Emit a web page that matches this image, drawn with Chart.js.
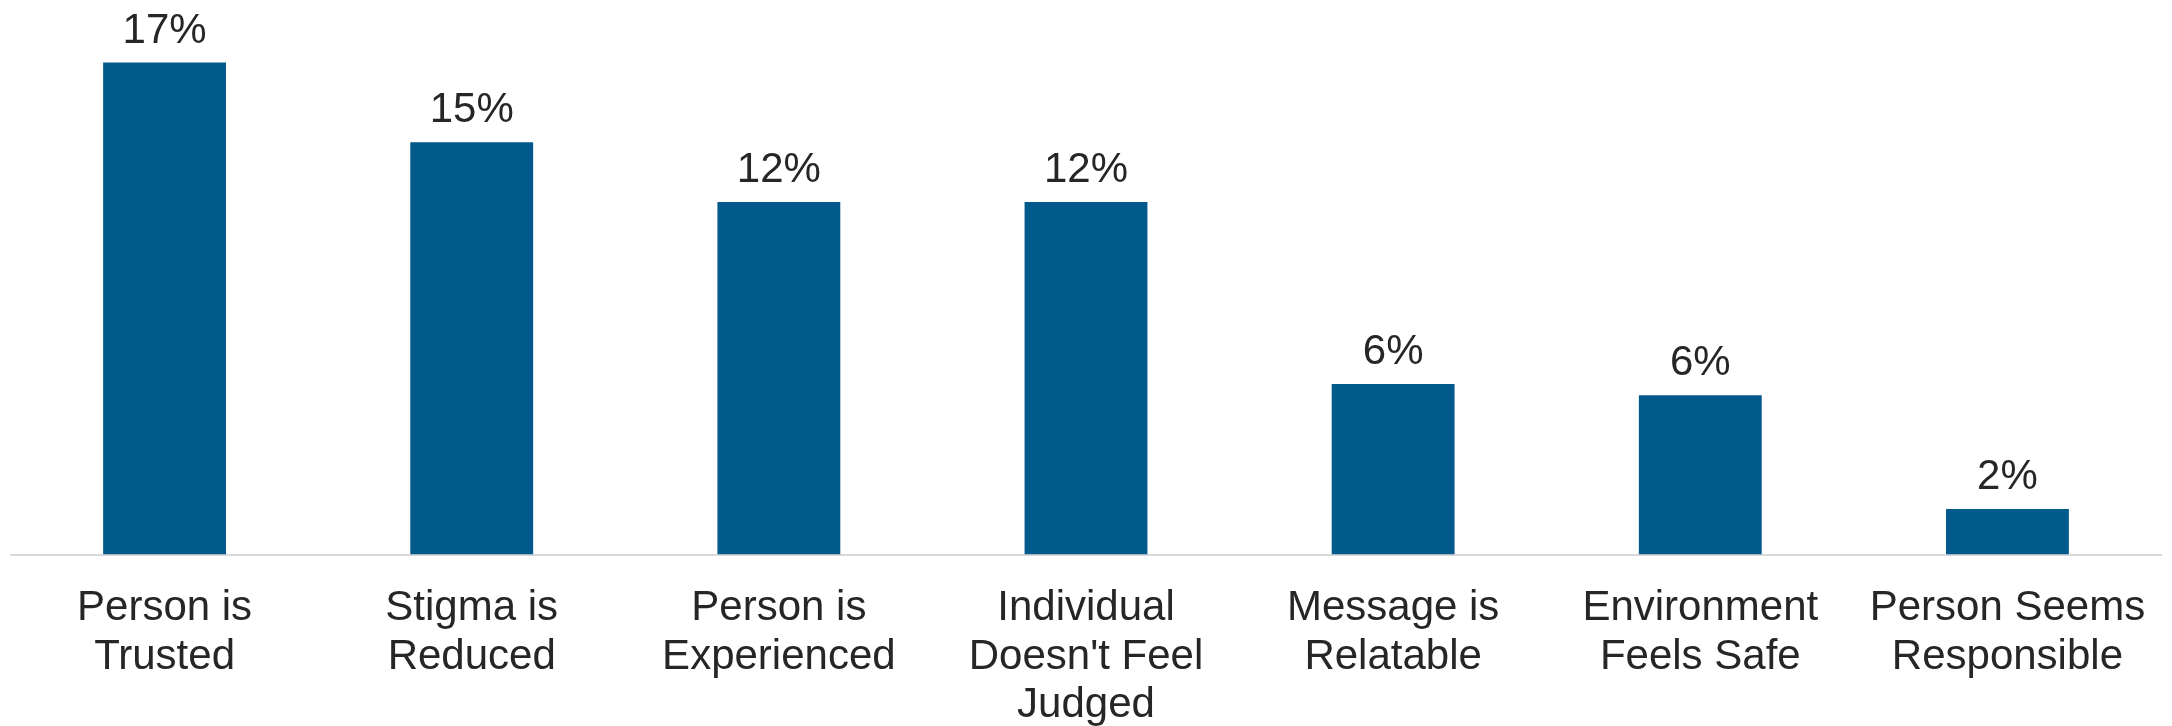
<!DOCTYPE html>
<html>
<head>
<meta charset="utf-8">
<script src="https://cdn.jsdelivr.net/npm/chart.js@4.4.1/dist/chart.umd.min.js"></script>
<style>
    html, body { margin: 0; padding: 0; background: #ffffff; overflow: hidden; }
    canvas { display: block; }
</style>
</head>
<body>
<canvas id="reasonsChart" width="2172" height="726"></canvas>
<script>
// Data
const categories = [
    ['Person is', 'Trusted'],
    ['Stigma is', 'Reduced'],
    ['Person is', 'Experienced'],
    ['Individual', "Doesn't Feel", 'Judged'],
    ['Message is', 'Relatable'],
    ['Environment', 'Feels Safe'],
    ['Person Seems', 'Responsible']
];
const shares = [17.3, 14.5, 12.4, 12.4, 6.0, 5.6, 1.6];

const textColor = '#262626';
const barColor = '#02598c';

// Draws the "17%" style labels above each bar
const valueLabels = {
    id: 'valueLabels',
    afterDatasetsDraw(chart) {
        const ctx = chart.ctx;
        const meta = chart.getDatasetMeta(0);
        ctx.save();
        ctx.font = '42px "Liberation Sans", Arial, sans-serif';
        ctx.fillStyle = textColor;
        ctx.textAlign = 'center';
        ctx.textBaseline = 'alphabetic';
        meta.data.forEach((bar, i) => {
            ctx.fillText(Math.round(shares[i]) + '%', bar.x, bar.y - 20);
        });
        ctx.restore();
    }
};

const ctx = document.getElementById('reasonsChart').getContext('2d');
new Chart(ctx, {
    type: 'bar',
    data: {
        labels: categories,
        datasets: [{
            data: shares,
            backgroundColor: barColor,
            barPercentage: 0.4,
            categoryPercentage: 1.0
        }]
    },
    options: {
        responsive: false,
        animation: false,
        devicePixelRatio: 1,
        layout: { padding: { left: 11, right: 11, top: 0, bottom: 0 } },
        plugins: {
            legend: { display: false },
            tooltip: { enabled: false }
        },
        scales: {
            x: {
                grid: { display: false, drawTicks: false },
                border: { display: true, color: '#d9d9d9', width: 2 },
                ticks: {
                    color: textColor,
                    font: { family: '"Liberation Sans", Arial, sans-serif', size: 42, lineHeight: 1.155 },
                    padding: 30,
                    maxRotation: 0,
                    autoSkip: false
                },
                afterFit(scale) {
                    scale.height = 171.5;
                    scale.paddingLeft = 0;
                    scale.paddingRight = 0;
                }
            },
            y: {
                display: false,
                min: 0,
                max: 19.5
            }
        }
    },
    plugins: [valueLabels]
});
</script>
</body>
</html>
